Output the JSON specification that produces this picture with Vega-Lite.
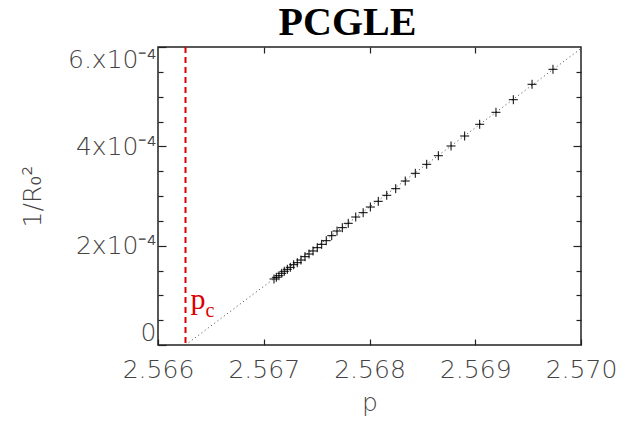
{
  "$schema": "https://vega.github.io/schema/vega-lite/v6.json",
  "width": 423,
  "height": 298,
  "autosize": "none",
  "padding": {"left": 158, "top": 47, "right": 44, "bottom": 85},
  "background": "white",
  "title": {"text": "PCGLE", "font": "Liberation Serif", "fontSize": 40, "fontWeight": "bold", "color": "black", "anchor": "middle", "frame": "group", "dx": -22, "offset": -29, "baseline": "alphabetic"},
  "config": {
    "view": {"stroke": "#222", "strokeWidth": 1.5, "fill": "white"},
    "axis": {"domain": false, "grid": false, "labelFont": "DejaVu Sans", "labelFontSize": 25, "labelFontWeight": 200, "labelColor": "#444", "labelOverlap": false, "titleFont": "DejaVu Sans", "titleFontSize": 25, "titleColor": "#444", "titleFontWeight": 200, "tickColor": "#222", "tickWidth": 1.2}
  },
  "datasets": {
    "points": [
      {"p": 2.569735, "v": 0.0005551},
      {"p": 2.569537, "v": 0.0005249},
      {"p": 2.569360, "v": 0.0004939},
      {"p": 2.569196, "v": 0.0004685},
      {"p": 2.569042, "v": 0.0004444},
      {"p": 2.568900, "v": 0.0004208},
      {"p": 2.568771, "v": 0.0004007},
      {"p": 2.568651, "v": 0.0003811},
      {"p": 2.568541, "v": 0.0003638},
      {"p": 2.568433, "v": 0.0003457},
      {"p": 2.568338, "v": 0.0003302},
      {"p": 2.568248, "v": 0.0003147},
      {"p": 2.568163, "v": 0.0003014},
      {"p": 2.568083, "v": 0.0002893},
      {"p": 2.568008, "v": 0.0002778},
      {"p": 2.567940, "v": 0.0002664},
      {"p": 2.567870, "v": 0.0002577},
      {"p": 2.567799, "v": 0.0002450},
      {"p": 2.567743, "v": 0.0002362},
      {"p": 2.567693, "v": 0.0002295},
      {"p": 2.567643, "v": 0.0002201},
      {"p": 2.567591, "v": 0.0002100},
      {"p": 2.567548, "v": 0.0002027},
      {"p": 2.567506, "v": 0.0001959},
      {"p": 2.567466, "v": 0.0001893},
      {"p": 2.567428, "v": 0.0001832},
      {"p": 2.567390, "v": 0.0001778},
      {"p": 2.567352, "v": 0.0001711},
      {"p": 2.567317, "v": 0.0001657},
      {"p": 2.567283, "v": 0.0001617},
      {"p": 2.567251, "v": 0.0001564},
      {"p": 2.567223, "v": 0.0001524},
      {"p": 2.567194, "v": 0.0001484},
      {"p": 2.567170, "v": 0.0001444},
      {"p": 2.567144, "v": 0.0001395},
      {"p": 2.567119, "v": 0.0001363},
      {"p": 2.567097, "v": 0.0001329}
    ],
    "fit": [
      {"p": 2.56626, "v": 0},
      {"p": 2.570, "v": 0.000597}
    ],
    "pc": [
      {"pc": 2.56626}
    ]
  },
  "layer": [
    {
      "data": {"name": "fit"},
      "mark": {"type": "line", "strokeDash": [1, 3], "color": "#444", "strokeWidth": 1},
      "encoding": {
        "x": {"field": "p", "type": "quantitative", "scale": {"domain": [2.566, 2.570], "nice": false, "zero": false},
          "axis": {"orient": "bottom", "values": [2.566, 2.567, 2.568, 2.569, 2.570], "format": ".3f", "tickSize": -6, "labelFlush": false, "labelPadding": 18, "title": "p", "titlePadding": 8}},
        "y": {"field": "v", "type": "quantitative", "scale": {"domain": [0, 0.0006], "nice": false, "zero": false},
          "axis": {"orient": "left", "values": [0, 0.0002, 0.0004, 0.0006], "tickSize": -8, "labelFlush": true, "labelPadding": 10,
            "labelExpr": "datum.value == 0 ? '0' : datum.value > 0.0005 ? '6.x10⁻⁴' : datum.value > 0.0003 ? '4x10⁻⁴' : '2x10⁻⁴'",
            "title": "1/R₀²", "titlePadding": 22}}
      }
    },
    {
      "data": {"name": "points"},
      "mark": {"type": "point", "shape": "M-1,0H1M0,-1V1", "size": 81, "filled": false, "stroke": "black", "strokeWidth": 1, "opacity": 1},
      "encoding": {
        "x": {"field": "p", "type": "quantitative",
          "axis": {"orient": "top", "values": [2.567, 2.568, 2.569], "tickSize": -6, "labels": false, "title": null}},
        "y": {"field": "v", "type": "quantitative",
          "axis": {"orient": "left", "values": [0.00005, 0.0001, 0.00015, 0.00025, 0.0003, 0.00035, 0.00045, 0.0005, 0.00055], "tickSize": -5, "labels": false, "title": null}}
      }
    },
    {
      "data": {"name": "pc"},
      "mark": {"type": "rule", "color": "#dd0000", "strokeWidth": 2, "strokeDash": [6, 4]},
      "encoding": {
        "x": {"field": "pc", "type": "quantitative", "axis": null}
      }
    },
    {
      "data": {"name": "pc"},
      "mark": {"type": "text", "text": "p", "font": "Liberation Serif", "fontSize": 30, "color": "#dd0000", "align": "left", "baseline": "alphabetic", "dx": 5},
      "encoding": {
        "x": {"field": "pc", "type": "quantitative", "axis": null},
        "y": {"datum": 0.0000725, "type": "quantitative",
          "axis": {"orient": "right", "values": [0.0002, 0.0004], "tickSize": -8, "labels": false, "title": null}}
      }
    },
    {
      "data": {"name": "pc"},
      "mark": {"type": "text", "text": "c", "font": "Liberation Serif", "fontSize": 20, "color": "#dd0000", "align": "left", "baseline": "alphabetic", "dx": 20},
      "encoding": {
        "x": {"field": "pc", "type": "quantitative", "axis": null},
        "y": {"datum": 0.0000564, "type": "quantitative",
          "axis": {"orient": "right", "values": [0.00005, 0.0001, 0.00015, 0.00025, 0.0003, 0.00035, 0.00045, 0.0005, 0.00055], "tickSize": -5, "labels": false, "title": null}}
      }
    }
  ],
  "resolve": {"axis": {"x": "independent", "y": "independent"}}
}
